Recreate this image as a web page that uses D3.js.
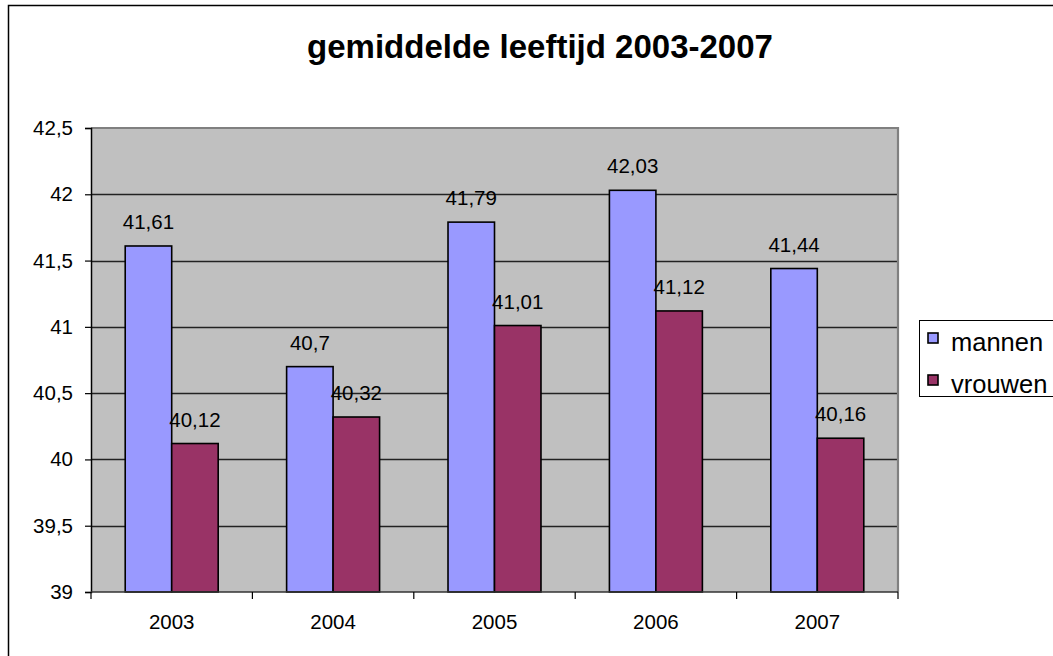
<!DOCTYPE html>
<html>
<head>
<meta charset="utf-8">
<script src="https://cdn.jsdelivr.net/npm/d3@7"></script>
<style>
  html, body { margin: 0; padding: 0; background: #fff; }
  svg { display: block; font-family: "Liberation Sans", Arial, sans-serif; }
</style>
</head>
<body>
<svg id="chart" width="1053" height="656"></svg>
<script>
// Average age per year, men and women
const years = ["2003", "2004", "2005", "2006", "2007"];
const seriesNames = ["mannen", "vrouwen"];
const mannen = [41.61, 40.7, 41.79, 42.03, 41.44];
const vrouwen = [40.12, 40.32, 41.01, 41.12, 40.16];
const yTicks = [39, 39.5, 40, 40.5, 41, 41.5, 42, 42.5];
const colors = ["#9999ff", "#993366"];
const chartTitle = "gemiddelde leeftijd 2003-2007";

const values = [mannen, vrouwen];
const fmt = v => String(v).replace(".", ",");

const svg = d3.select("#chart");

// outer chart frame
svg.append("rect")
  .attr("x", 8.5).attr("y", 5.5)
  .attr("width", 1100).attr("height", 700)
  .attr("fill", "#fff").attr("stroke", "#000").attr("stroke-width", 1.5);

const plot = { left: 91, right: 898, top: 128, bottom: 592 };

const x0 = d3.scaleBand().domain(years).range([plot.left, plot.right]).padding(0);
const x1 = d3.scaleBand().domain(seriesNames).range([0, x0.bandwidth()])
  .paddingInner(0).paddingOuter(0.736);
const y = d3.scaleLinear().domain([39, 42.5]).range([plot.bottom, plot.top]);

// plot background
svg.append("rect")
  .attr("x", plot.left).attr("y", plot.top)
  .attr("width", plot.right - plot.left).attr("height", plot.bottom - plot.top)
  .attr("fill", "#c0c0c0");

// horizontal gridlines
svg.append("g").selectAll("line")
  .data(yTicks.filter(t => t > 39 && t < 42.5))
  .join("line")
  .attr("x1", plot.left).attr("x2", plot.right)
  .attr("y1", d => Math.round(y(d)) + 0.5).attr("y2", d => Math.round(y(d)) + 0.5)
  .attr("stroke", "#222").attr("stroke-width", 1.3);

// top and right border of the plot area
svg.append("path")
  .attr("d", `M${plot.left},${plot.top} H${plot.right} V${plot.bottom}`)
  .attr("fill", "none").attr("stroke", "#808080").attr("stroke-width", 2.2);

// bars
const groups = svg.append("g").selectAll("g")
  .data(years)
  .join("g")
  .attr("transform", d => `translate(${x0(d)},0)`);

groups.selectAll("rect")
  .data((d, i) => seriesNames.map((s, j) => ({ s, v: values[j][i], j })))
  .join("rect")
  .attr("x", d => x1(d.s))
  .attr("y", d => y(d.v))
  .attr("width", x1.bandwidth())
  .attr("height", d => y(39) - y(d.v))
  .attr("fill", d => colors[d.j])
  .attr("stroke", "#000").attr("stroke-width", 1.6);

// value labels
groups.selectAll("text")
  .data((d, i) => seriesNames.map((s, j) => ({ s, v: values[j][i], j })))
  .join("text")
  .attr("x", d => x1(d.s) + x1.bandwidth() / 2)
  .attr("y", d => y(d.v) - 17)
  .attr("text-anchor", "middle")
  .attr("font-size", 20.5)
  .attr("fill", "#000")
  .text(d => fmt(d.v));

// y axis
const yAxis = d3.axisLeft(y).tickValues(yTicks).tickFormat(fmt).tickSize(6).tickPadding(12);
const gy = svg.append("g").attr("transform", `translate(${plot.left},0)`).call(yAxis);
gy.select(".domain").attr("stroke", "#000").attr("stroke-width", 1.5);
gy.selectAll(".tick line").attr("stroke", "#000").attr("stroke-width", 1.2);
gy.selectAll(".tick text").attr("font-size", 20.5).attr("font-family", "Liberation Sans, Arial, sans-serif").attr("fill", "#000");

// x axis: ticks at category boundaries
const gx = svg.append("g").attr("transform", `translate(0,${plot.bottom})`);
gx.append("line")
  .attr("x1", plot.left).attr("x2", plot.right)
  .attr("y1", 0).attr("y2", 0)
  .attr("stroke", "#333").attr("stroke-width", 1.5);
const bounds = years.map(d => x0(d)).concat([x0(years[years.length - 1]) + x0.bandwidth()]);
gx.selectAll("line.tk")
  .data(bounds)
  .join("line").attr("class", "tk")
  .attr("x1", d => d).attr("x2", d => d)
  .attr("y1", 0).attr("y2", 7)
  .attr("stroke", "#000").attr("stroke-width", 1.2);
gx.selectAll("text")
  .data(years)
  .join("text")
  .attr("x", d => x0(d) + x0.bandwidth() / 2)
  .attr("y", 37)
  .attr("text-anchor", "middle")
  .attr("font-size", 20.5)
  .attr("fill", "#000")
  .text(d => d);

// title
svg.append("text")
  .attr("x", 540).attr("y", 58)
  .attr("text-anchor", "middle")
  .attr("font-size", 33).attr("font-weight", "bold")
  .attr("fill", "#000")
  .text(chartTitle);

// legend
const legend = svg.append("g");
legend.append("rect")
  .attr("x", 919.5).attr("y", 320.5)
  .attr("width", 200).attr("height", 76)
  .attr("fill", "#fff").attr("stroke", "#000").attr("stroke-width", 1);
const li = legend.selectAll("g.item")
  .data(seriesNames)
  .join("g").attr("class", "item")
  .attr("transform", (d, i) => `translate(928,${333 + i * 42})`);
li.append("rect")
  .attr("width", 10).attr("height", 10)
  .attr("fill", (d, i) => colors[i])
  .attr("stroke", "#000").attr("stroke-width", 1.6);
li.append("text")
  .attr("x", 23).attr("y", 18)
  .attr("font-size", 25.5)
  .attr("fill", "#000")
  .text(d => d);
</script>
</body>
</html>
